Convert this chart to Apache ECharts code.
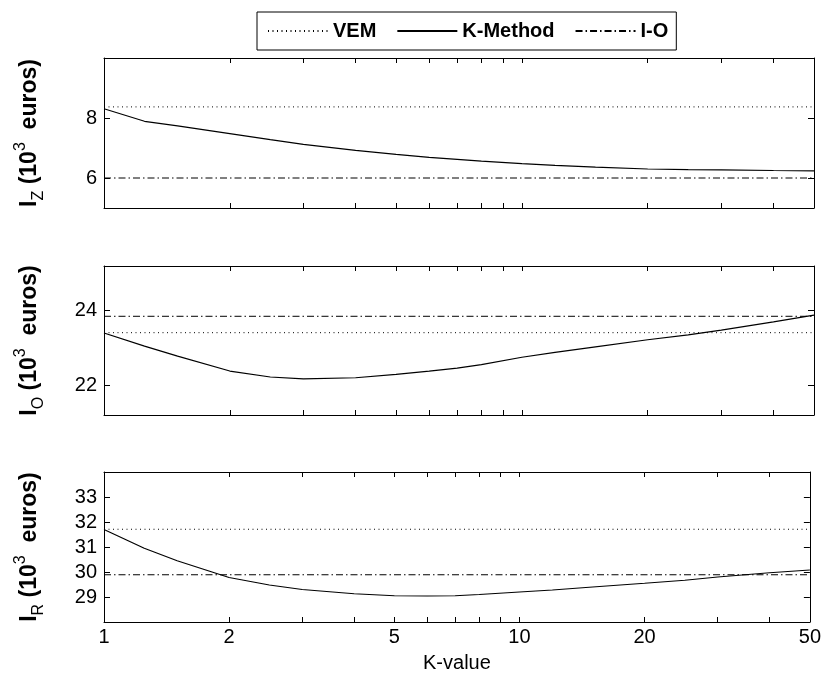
<!DOCTYPE html>
<html>
<head>
<meta charset="utf-8">
<script src="https://cdn.jsdelivr.net/npm/echarts@6/dist/echarts.min.js"></script>
<style>
html,body{margin:0;padding:0;background:#fff;}
#c{width:824px;height:674px;}
</style>
</head>
<body>
<div id="c"></div>
<script>
// ---- data ----
const kValues = [1, 1.25, 1.5, 2, 2.5, 3, 4, 5, 6, 7, 8, 10, 12, 15, 20, 25, 30, 40, 50];
const izKMethod = [8.31, 7.89, 7.74, 7.48, 7.28, 7.12, 6.92, 6.79, 6.69, 6.62, 6.56, 6.48, 6.42, 6.36, 6.30, 6.28, 6.27, 6.25, 6.24];
const ioKMethod = [23.40, 23.05, 22.78, 22.38, 22.22, 22.17, 22.20, 22.29, 22.38, 22.46, 22.55, 22.75, 22.88, 23.03, 23.22, 23.35, 23.48, 23.70, 23.88];
const irKMethod = [31.70, 30.95, 30.45, 29.78, 29.48, 29.30, 29.13, 29.05, 29.04, 29.05, 29.10, 29.20, 29.28, 29.40, 29.55, 29.67, 29.80, 29.97, 30.08];
const vemValues = [8.37, 23.41, 31.71];
const ioValues = [6.0, 23.85, 29.89];
const xTickLabels = [1, 2, 5, 10, 20, 50];
const xTicks = [1, 2, 3, 4, 5, 6, 7, 8, 9, 10, 20, 30, 40, 50];
const yTickLabels = [[6, 8], [22, 24], [29, 30, 31, 32, 33]];
const yRanges = [[5, 10], [21.2, 25.2], [28, 34]];
const yNames = [['I', 'Z'], ['I', 'O'], ['I', 'R']];
const seriesNames = ['VEM', 'K-Method', 'I-O'];
const xName = 'K-value';

// ---- chart ----
const FONT = '"Liberation Sans", Arial, Helvetica, sans-serif';
const chart = echarts.init(document.getElementById('c'), null, {renderer: 'canvas'});
const tops = [58, 266, 472];
const heights = [150, 149, 150];
const kSeries = [izKMethod, ioKMethod, irKMethod];

const grids = [], xAxes = [], yAxes = [], series = [];
const axLine = {show: true, lineStyle: {color: '#000', width: 1}};
for (let i = 0; i < 3; i++) {
  grids.push({left: 104, right: 10, top: tops[i], height: heights[i], show: false});
  const isBottom = i === 2;
  xAxes.push({
    type: 'log', logBase: 10, gridIndex: i, min: 1, max: 50, position: 'bottom',
    axisLine: axLine,
    axisTick: {show: true, inside: true, length: 5, customValues: xTicks, lineStyle: {color: '#000'}},
    axisLabel: {show: isBottom, customValues: xTickLabels, margin: 5, color: '#000', fontSize: 20, fontFamily: FONT},
    minorTick: {show: false}, splitLine: {show: false}, minorSplitLine: {show: false},
    name: isBottom ? xName : '', nameLocation: 'middle', nameGap: 31,
    nameTextStyle: {color: '#000', fontSize: 20, fontFamily: FONT}
  });
  xAxes.push({
    type: 'log', logBase: 10, gridIndex: i, min: 1, max: 50, position: 'top',
    axisLine: axLine,
    axisTick: {show: true, inside: true, length: 5, customValues: xTicks, lineStyle: {color: '#000'}},
    axisLabel: {show: false}, splitLine: {show: false}
  });
  const nm = yNames[i];
  yAxes.push({
    type: 'value', gridIndex: i, min: yRanges[i][0], max: yRanges[i][1], position: 'left',
    axisLine: axLine,
    axisTick: {show: true, inside: true, length: 6, customValues: yTickLabels[i], lineStyle: {color: '#000'}},
    axisLabel: {customValues: yTickLabels[i], margin: 7, color: '#000', fontSize: 20, fontFamily: FONT},
    splitLine: {show: false},
    name: '{m|' + nm[0] + '}{sub|' + nm[1] + '}{m| (10}{sup|3}{m|  euros)}',
    nameLocation: 'middle', nameRotate: 90, nameGap: 57,
    nameTextStyle: {
      color: '#000', fontFamily: FONT,
      rich: {
        m: {fontSize: 23, fontWeight: 'bold', lineHeight: 34, fontFamily: FONT, color: '#000'},
        sub: {fontSize: 16, lineHeight: 15, verticalAlign: 'bottom', fontFamily: FONT, color: '#000'},
        sup: {fontSize: 16, lineHeight: 15, verticalAlign: 'top', fontFamily: FONT, color: '#000'}
      }
    }
  });
  yAxes.push({
    type: 'value', gridIndex: i, min: yRanges[i][0], max: yRanges[i][1], position: 'right',
    axisLine: axLine,
    axisTick: {show: true, inside: true, length: 6, customValues: yTickLabels[i], lineStyle: {color: '#000'}},
    axisLabel: {show: false}, splitLine: {show: false}
  });
  const xi = i * 2, yi = i * 2;
  series.push({
    name: seriesNames[0], type: 'line', xAxisIndex: xi, yAxisIndex: yi, symbol: 'none', silent: true,
    data: [[kValues[0], vemValues[i]], [kValues[kValues.length - 1], vemValues[i]]],
    lineStyle: {color: '#000', width: 1, type: [1, 3.5]}, itemStyle: {color: '#000'}
  });
  series.push({
    name: seriesNames[1], type: 'line', xAxisIndex: xi, yAxisIndex: yi, symbol: 'none', silent: true,
    data: kValues.map((k, j) => [k, kSeries[i][j]]),
    lineStyle: {color: '#000', width: 1.2, type: 'solid'}, itemStyle: {color: '#000'}
  });
  series.push({
    name: seriesNames[2], type: 'line', xAxisIndex: xi, yAxisIndex: yi, symbol: 'none', silent: true,
    data: [[kValues[0], ioValues[i]], [kValues[kValues.length - 1], ioValues[i]]],
    lineStyle: {color: '#000', width: 1, type: [7, 3, 1.5, 3]}, itemStyle: {color: '#000'}
  });
}

chart.setOption({
  animation: false,
  backgroundColor: '#fff',
  legend: {
    data: seriesNames, left: 257, top: 12,
    borderColor: '#000', borderWidth: 1, padding: [9, 8, 9, 10],
    itemWidth: 60, itemHeight: 14, itemGap: 20,
    itemStyle: {opacity: 0},
    textStyle: {color: '#000', fontSize: 20, fontFamily: FONT, fontWeight: 'bold'},
    selectedMode: false
  },
  grid: grids, xAxis: xAxes, yAxis: yAxes, series: series
});
</script>
</body>
</html>
